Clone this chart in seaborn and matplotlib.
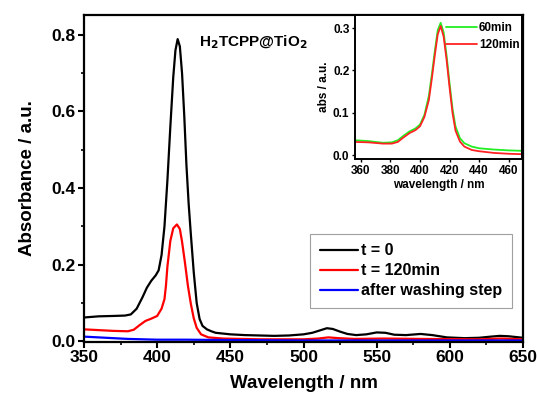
import matplotlib
matplotlib.use("Agg")
import matplotlib.pyplot as plt
from matplotlib.ticker import MultipleLocator
import seaborn as sns
import pandas as pd

sns.set_theme(style="ticks")
plt.rcParams['font.family'] = ['Liberation Sans', 'DejaVu Sans']
plt.rcParams['font.weight'] = 'bold'
plt.rcParams['mathtext.default'] = 'bf'
for k in ['text.color', 'axes.labelcolor', 'xtick.color', 'ytick.color', 'axes.edgecolor']:
    plt.rcParams[k] = 'black'

# ---- main spectra ----
wl_t0 = [350, 360, 370, 378, 382, 386, 390, 393, 396, 399, 401, 403, 405, 407, 409, 411,
         412.5, 414, 415.5, 417, 418.5, 420, 421.5, 423, 425, 427, 429, 431, 434, 437, 440,
         450, 460, 470, 480, 490, 500, 506, 511, 516, 520, 525, 530, 536, 543, 550, 556,
         562, 570, 580, 588, 598, 610, 620, 628, 634, 640, 645, 650]
abs_t0 = [0.062, 0.065, 0.066, 0.067, 0.070, 0.085, 0.115, 0.140, 0.158, 0.172, 0.185, 0.225,
          0.300, 0.420, 0.560, 0.690, 0.760, 0.789, 0.770, 0.700, 0.590, 0.460, 0.360, 0.280,
          0.180, 0.100, 0.058, 0.040, 0.031, 0.026, 0.022, 0.018, 0.016, 0.015, 0.014, 0.015,
          0.018, 0.022, 0.028, 0.034, 0.032, 0.025, 0.019, 0.016, 0.018, 0.023, 0.022, 0.017,
          0.016, 0.019, 0.016, 0.010, 0.008, 0.009, 0.012, 0.014, 0.013, 0.011, 0.009]

wl_t120 = [350, 360, 370, 380, 384, 388, 392, 396, 400, 403, 405, 406, 407, 409, 411, 413.5,
           415.5, 417, 419, 421, 423, 425, 427, 430, 435, 445, 470, 500, 510, 517, 524, 535,
           555, 580, 620, 635, 650]
abs_t120 = [0.031, 0.029, 0.027, 0.026, 0.030, 0.042, 0.053, 0.059, 0.066, 0.085, 0.110, 0.145,
            0.195, 0.262, 0.295, 0.305, 0.293, 0.260, 0.205, 0.145, 0.098, 0.060, 0.035, 0.018,
            0.010, 0.007, 0.005, 0.005, 0.007, 0.010, 0.008, 0.006, 0.007, 0.006, 0.005, 0.007,
            0.005]

wl_wash = [350, 355, 360, 370, 380, 390, 400, 420, 450, 500, 550, 600, 650]
abs_wash = [0.012, 0.011, 0.010, 0.008, 0.006, 0.005, 0.004, 0.004, 0.003, 0.002, 0.002,
            0.002, 0.002]

labels_main = ["t = 0", "t = 120min", "after washing step"]
colors_main = ["black", "#ff0000", "#0000ff"]

# ---- inset spectra ----
wl_in = [356, 365, 375, 381, 385, 389, 393, 397, 400, 403, 406, 408, 410, 412, 414, 416,
         418, 420, 422, 424, 427, 430, 435, 440, 450, 460, 469]
abs_60 = [0.035, 0.033, 0.029, 0.030, 0.035, 0.046, 0.056, 0.063, 0.072, 0.095, 0.140, 0.190,
          0.245, 0.295, 0.3125, 0.290, 0.235, 0.170, 0.110, 0.068, 0.040, 0.028, 0.020, 0.016,
          0.013, 0.011, 0.010]
abs_120 = [0.031, 0.030, 0.027, 0.027, 0.031, 0.042, 0.052, 0.059, 0.068, 0.090, 0.130, 0.180,
           0.235, 0.285, 0.305, 0.280, 0.225, 0.160, 0.100, 0.058, 0.032, 0.020, 0.012, 0.009,
           0.005, 0.003, 0.002]
labels_in = ["60min", "120min"]
colors_in = ["#22ee22", "#ff2222"]

df_main = pd.concat([
    pd.DataFrame({"wl": wl_t0, "A": abs_t0, "s": labels_main[0]}),
    pd.DataFrame({"wl": wl_t120, "A": abs_t120, "s": labels_main[1]}),
    pd.DataFrame({"wl": wl_wash, "A": abs_wash, "s": labels_main[2]}),
])
df_in = pd.concat([
    pd.DataFrame({"wl": wl_in, "A": abs_60, "s": labels_in[0]}),
    pd.DataFrame({"wl": wl_in, "A": abs_120, "s": labels_in[1]}),
])

fig = plt.figure(figsize=(5.37, 3.94), dpi=100)
ax = fig.add_axes([0.1564, 0.132, 0.8176, 0.830])

sns.lineplot(data=df_main, x="wl", y="A", hue="s", hue_order=labels_main,
             palette=colors_main, estimator=None, sort=False, lw=1.6, ax=ax)
ax.set_xlim(350, 650)
ax.set_ylim(-0.002, 0.852)
ax.xaxis.set_major_locator(MultipleLocator(50))
ax.xaxis.set_minor_locator(MultipleLocator(25))
ax.yaxis.set_major_locator(MultipleLocator(0.2))
ax.yaxis.set_minor_locator(MultipleLocator(0.1))
ax.tick_params(which='major', direction='out', length=4, width=1.5, labelsize=12.5,
               bottom=True, left=True, pad=2)
ax.tick_params(which='minor', direction='out', length=2.5, width=1.2, bottom=True, left=True)
for lab in ax.get_xticklabels() + ax.get_yticklabels():
    lab.set_fontweight('bold')
for sp in ax.spines.values():
    sp.set_linewidth(1.6)
    sp.set_color('black')
ax.set_xlabel("Wavelength / nm", fontsize=13.5, fontweight='bold', labelpad=7)
ax.set_ylabel("Absorbance / a.u.", fontsize=13.5, fontweight='bold', labelpad=11)
ax.text(0.263, 0.915, r"H$_2$TCPP@TiO$_2$", transform=ax.transAxes, fontsize=11,
        fontweight='bold', ha='left', va='center')
leg = ax.legend(loc='lower right', bbox_to_anchor=(0.975, 0.104), borderaxespad=0,
                fontsize=11.5, handlelength=2.4, handletextpad=0.2, borderpad=0.6,
                labelspacing=0.32, frameon=True, fancybox=False, edgecolor='#888888')
leg.get_frame().set_linewidth(0.8)
for t in leg.get_texts():
    t.set_fontweight('bold')

# inset
axin = fig.add_axes([0.661, 0.5964, 0.311, 0.3656])
sns.lineplot(data=df_in, x="wl", y="A", hue="s", hue_order=labels_in,
             palette=colors_in, estimator=None, sort=False, lw=1.3, ax=axin)
axin.set_xlim(356, 469)
axin.set_ylim(-0.0094, 0.331)
axin.xaxis.set_major_locator(MultipleLocator(20))
axin.yaxis.set_major_locator(MultipleLocator(0.1))
axin.tick_params(which='major', direction='out', length=2.5, width=1.0, labelsize=8.5,
                 bottom=True, left=True, pad=1.5)
for lab in axin.get_xticklabels() + axin.get_yticklabels():
    lab.set_fontweight('bold')
for sp in axin.spines.values():
    sp.set_linewidth(1.4)
    sp.set_color('black')
axin.set_xlabel("wavelength / nm", fontsize=8.5, fontweight='bold', labelpad=2)
axin.set_ylabel("abs / a.u.", fontsize=8.5, fontweight='bold', labelpad=2)
lin = axin.legend(loc='upper right', bbox_to_anchor=(1.0, 0.97), borderaxespad=0,
                  fontsize=8.5, frameon=False, handlelength=2.6, handletextpad=0.2,
                  labelspacing=0.45, borderpad=0.2)
for t in lin.get_texts():
    t.set_fontweight('bold')

fig.savefig("out.png", dpi=100)
